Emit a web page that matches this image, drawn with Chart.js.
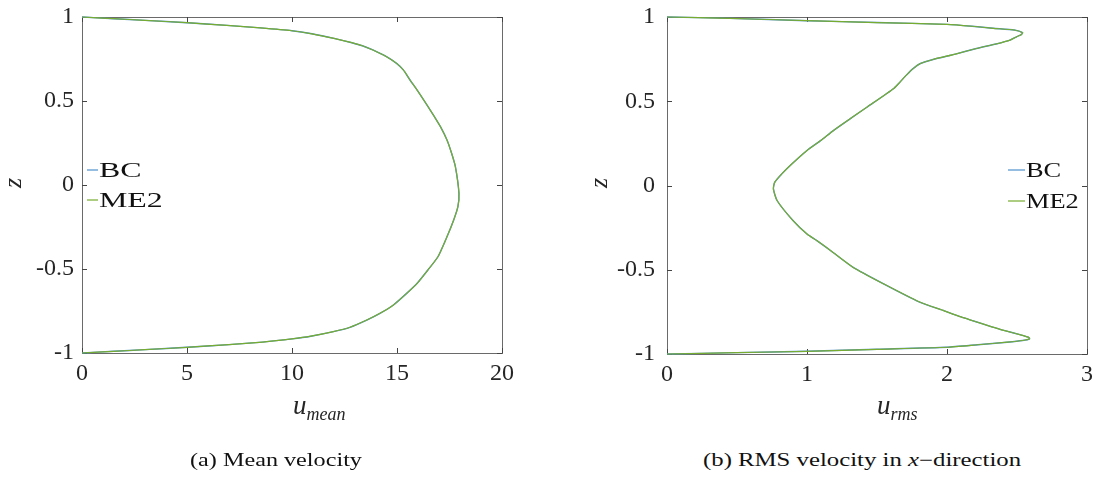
<!DOCTYPE html>
<html>
<head>
<meta charset="utf-8">
<script src="https://cdn.jsdelivr.net/npm/chart.js@4.4.0/dist/chart.umd.min.js"></script>
<style>
  html, body { margin:0; padding:0; background:#fff; }
  body { width:1094px; height:477px; position:relative; overflow:hidden; font-family:'Liberation Serif', serif; color:#262626; }
  .box { position:absolute; top:0; height:440px; }
  .lbl { position:absolute; white-space:nowrap; font-family:'Liberation Serif', serif; color:#262626; }
  .xt { font-size:27px; font-style:italic; }
  .xt sub { font-size:18px; font-style:italic; vertical-align:-6px; }
  .zt { font-size:26px; font-style:italic; transform:rotate(-90deg); transform-origin:center center; }
  .cap { font-size:18px; color:#111; transform-origin:left center; }
</style>
</head>
<body>
<div class="box" style="left:0;width:530px;"><canvas id="c1"></canvas></div>
<div class="box" style="left:560px;width:534px;"><canvas id="c2"></canvas></div>

<div class="lbl xt" style="left:293px;top:390px;">u<sub>mean</sub></div>
<div class="lbl xt" style="left:877px;top:390px;">u<sub>rms</sub></div>
<div class="lbl zt" style="left:8px;top:168px;">z</div>
<div class="lbl zt" style="left:594px;top:168px;">z</div>
<div class="lbl cap" id="capA" data-w="172" style="left:190px;top:450px;">(a) Mean velocity</div>
<div class="lbl cap" id="capB" data-w="318" style="left:703px;top:450px;">(b) RMS velocity in <i>x</i>&minus;direction</div>

<script>
// ---- data ----
const seriesNames = ['BC', 'ME2'];

// (a) mean velocity profile
const zMean = [1, 0.99, 0.98, 0.966, 0.95, 0.935, 0.918, 0.9, 0.873, 0.847, 0.829, 0.804, 0.764, 0.724, 0.685, 0.625, 0.565, 0.476, 0.407, 0.347, 0.268, 0.189, 0.109, -0.05, -0.129, -0.208, -0.308, -0.427, -0.506, -0.585, -0.645, -0.714, -0.764, -0.804, -0.847, -0.873, -0.9, -0.916, -0.935, -0.95, -0.966, -0.98, -0.99, -1];
const uMeanBC = [0, 1.5, 3.0, 5.0, 6.9, 8.5, 10.0, 10.95, 12.0, 12.85, 13.35, 13.85, 14.5, 14.98, 15.3, 15.62, 15.96, 16.43, 16.78, 17.07, 17.38, 17.6, 17.78, 17.95, 17.9, 17.7, 17.38, 16.95, 16.47, 15.96, 15.46, 14.83, 14.19, 13.56, 12.76, 11.97, 10.9, 10.0, 8.6, 7.0, 5.0, 3.0, 1.5, 0];
const uMeanME2 = [0, 1.5, 3.0, 5.0, 6.9, 8.5, 10.0, 10.95, 12.0, 12.85, 13.35, 13.85, 14.5, 14.98, 15.3, 15.62, 15.96, 16.43, 16.78, 17.07, 17.38, 17.6, 17.78, 17.95, 17.9, 17.7, 17.38, 16.95, 16.47, 15.96, 15.46, 14.83, 14.19, 13.56, 12.76, 11.97, 10.9, 10.0, 8.6, 7.0, 5.0, 3.0, 1.5, 0];

// (b) rms velocity profile
const zRms = [1, 0.992, 0.978, 0.967, 0.956, 0.945, 0.933, 0.923, 0.907, 0.895, 0.884, 0.863, 0.84, 0.813, 0.78, 0.748, 0.724, 0.695, 0.655, 0.61, 0.576, 0.466, 0.397, 0.327, 0.268, 0.208, 0.119, 0.069, 0.02, -0.02, -0.089, -0.208, -0.288, -0.327, -0.387, -0.486, -0.585, -0.69, -0.744, -0.78, -0.804, -0.839, -0.863, -0.885, -0.9, -0.91, -0.92, -0.93, -0.945, -0.96, -0.972, -0.984, -0.992, -1];
const uRmsBC = [0, 0.45, 1.0, 1.5, 2.0, 2.18, 2.33, 2.48, 2.54, 2.53, 2.5, 2.45, 2.35, 2.21, 2.06, 1.90, 1.81, 1.76, 1.71, 1.66, 1.62, 1.43, 1.31, 1.19, 1.10, 1.0, 0.88, 0.82, 0.77, 0.76, 0.786, 0.90, 1.0, 1.07, 1.17, 1.33, 1.55, 1.80, 1.98, 2.1, 2.19, 2.32, 2.42, 2.52, 2.58, 2.59, 2.54, 2.43, 2.22, 2.0, 1.5, 1.0, 0.5, 0];
const uRmsME2 = [0, 0.45, 1.0, 1.5, 2.0, 2.18, 2.33, 2.48, 2.54, 2.53, 2.5, 2.45, 2.35, 2.21, 2.06, 1.90, 1.81, 1.76, 1.71, 1.66, 1.62, 1.43, 1.31, 1.19, 1.10, 1.0, 0.88, 0.82, 0.77, 0.76, 0.786, 0.90, 1.0, 1.07, 1.17, 1.33, 1.55, 1.80, 1.98, 2.1, 2.19, 2.32, 2.42, 2.52, 2.58, 2.59, 2.54, 2.43, 2.22, 2.0, 1.5, 1.0, 0.5, 0];

const zTicks = [-1, -0.5, 0, 0.5, 1];
const uMeanTicks = [0, 5, 10, 15, 20];
const uRmsTicks = [0, 1, 2, 3];

const colors = ['#4f8fcd', '#77AC30'];

function pts(xs, ys) { return xs.map((x, i) => ({ x: x, y: ys[i] })); }

const boxPlugin = {
  id: 'boxTicks',
  beforeDatasetsDraw(chart) {
    const { ctx, chartArea: a, scales } = chart;
    ctx.save();
    ctx.strokeStyle = '#6a6a6a';
    ctx.lineWidth = 1;
    ctx.strokeRect(Math.round(a.left) + 0.5, Math.round(a.top) + 0.5, Math.round(a.right - a.left), Math.round(a.bottom - a.top));
    const L = 5;
    ctx.strokeStyle = '#444';
    ctx.beginPath();
    scales.x.ticks.forEach(t => {
      const px = Math.round(scales.x.getPixelForValue(t.value)) + 0.5;
      ctx.moveTo(px, a.bottom); ctx.lineTo(px, a.bottom - L);
      ctx.moveTo(px, a.top); ctx.lineTo(px, a.top + L);
    });
    scales.y.ticks.forEach(t => {
      const py = Math.round(scales.y.getPixelForValue(t.value)) + 0.5;
      ctx.moveTo(a.left, py); ctx.lineTo(a.left + L, py);
      ctx.moveTo(a.right, py); ctx.lineTo(a.right - L, py);
    });
    ctx.stroke();
    ctx.restore();
  },
  afterDraw(chart, args, opts) {
    const { ctx, chartArea: a } = chart;
    ctx.save();
    const x0 = opts.side === 'left' ? a.left + opts.dx : a.right - opts.dx;
    chart.data.datasets.forEach((ds, i) => {
      const y = opts.y0 + i * opts.dy;
      ctx.strokeStyle = ds.borderColor;
      ctx.lineWidth = 1.2;
      ctx.beginPath();
      ctx.moveTo(x0, y); ctx.lineTo(x0 + opts.lineLen, y);
      ctx.stroke();
      ctx.save();
      ctx.translate(x0 + opts.lineLen + 1, y + 7);
      ctx.scale(opts.sx, 1);
      ctx.fillStyle = '#111';
      ctx.font = '22px "Liberation Serif", serif';
      ctx.textBaseline = 'alphabetic';
      ctx.fillText(ds.label, 0, 0);
      ctx.restore();
    });
    ctx.restore();
  }
};

function makeChart(id, xs1, xs2, zs, xMax, xTicks, yAxisW, tickPad, padRight, xAxisH, legendOpts) {
  return new Chart(document.getElementById(id), {
    type: 'scatter',
    data: {
      datasets: [
        { label: seriesNames[0], data: pts(xs1, zs), borderColor: colors[0], backgroundColor: colors[0], showLine: true, pointRadius: 0, borderWidth: 1.4, tension: 0.2, clip: 3, order: 1 },
        { label: seriesNames[1], data: pts(xs2, zs), borderColor: colors[1], backgroundColor: colors[1], showLine: true, pointRadius: 0, borderWidth: 1.2, tension: 0.2, clip: 3, order: 0 }
      ]
    },
    options: {
      responsive: true,
      maintainAspectRatio: false,
      animation: false,
      layout: { padding: { top: 17, right: padRight, left: 0, bottom: 0 } },
      plugins: { legend: { display: false }, tooltip: { enabled: false }, boxTicks: legendOpts },
      scales: {
        x: {
          type: 'linear', min: 0, max: xMax,
          afterBuildTicks: s => { s.ticks = xTicks.map(v => ({ value: v })); },
          afterFit: s => { s.height = xAxisH; s.paddingLeft = 0; s.paddingRight = 0; },
          grid: { display: false, drawTicks: false },
          border: { display: false },
          ticks: { color: '#262626', font: { family: '"Liberation Serif", serif', size: 24 }, padding: 6, maxRotation: 0, autoSkip: false }
        },
        y: {
          type: 'linear', min: -1, max: 1,
          afterBuildTicks: s => { s.ticks = zTicks.map(v => ({ value: v })); },
          afterFit: s => { s.width = yAxisW; s.paddingTop = 0; s.paddingBottom = 0; },
          grid: { display: false, drawTicks: false },
          border: { display: false },
          ticks: { color: '#262626', font: { family: '"Liberation Serif", serif', size: 24 }, padding: tickPad, autoSkip: false,
                   callback: v => String(v) }
        }
      }
    },
    plugins: [boxPlugin]
  });
}

makeChart('c1', uMeanBC, uMeanME2, zMean, 20, uMeanTicks, 82, 8, 28, 87,
  { side: 'left', dx: 5, y0: 170, dy: 30, lineLen: 11, sx: 1.45 });
makeChart('c2', uRmsBC, uRmsME2, zRms, 3, uRmsTicks, 107, 12, 7, 86,
  { side: 'right', dx: 79, y0: 170, dy: 31, lineLen: 17, sx: 1.2 });

// stretch captions to the widths seen in the reference
['capA', 'capB'].forEach(id => {
  const el = document.getElementById(id);
  const w = el.getBoundingClientRect().width;
  el.style.transform = 'scaleX(' + (parseFloat(el.dataset.w) / w).toFixed(3) + ')';
});
</script>
</body>
</html>
